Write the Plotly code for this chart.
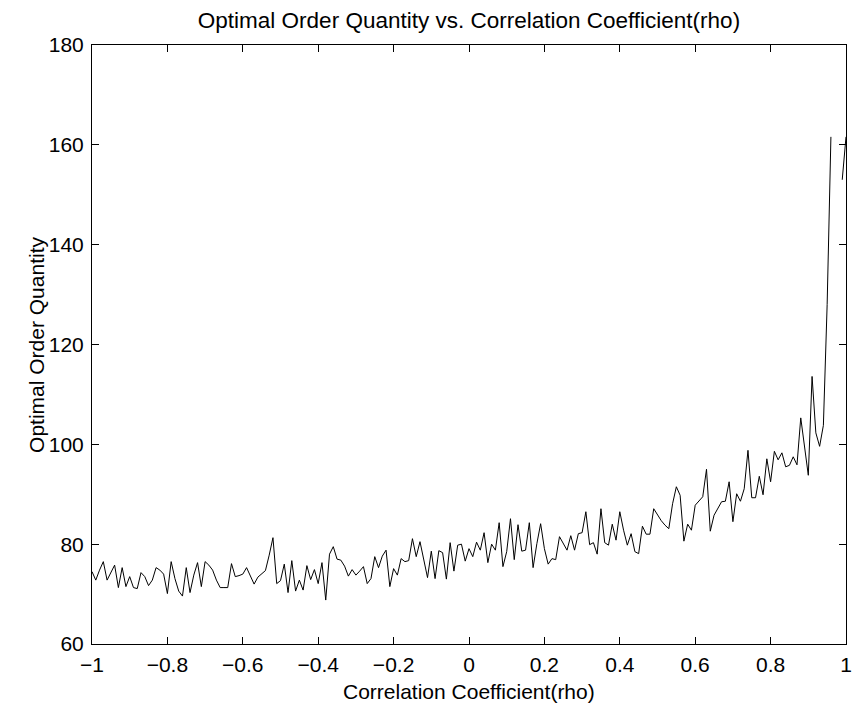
import plotly.graph_objects as go

# correlation coefficient grid (-1 : 0.01 : 1)
rho = [round(-1 + 0.01 * i, 2) for i in range(201)]

# optimal order quantity, rho = -1.00 ... -0.51
q_part1 = [74.5, 72.8, 74.8, 76.5, 72.8, 74.3, 75.8, 71.3, 75.3, 71.5,
           73.5, 71.3, 71.1, 74.3, 73.5, 71.7, 72.8, 75.3, 74.8, 74.0,
           70.1, 76.5, 73.1, 70.6, 69.6, 75.3, 70.3, 73.8, 76.3, 71.5,
           76.5, 75.8, 74.8, 72.8, 71.3, 71.3, 71.3, 76.1, 73.5, 73.7,
           74.0, 75.3, 73.7, 72.0, 73.4, 74.0, 74.7, 77.8, 81.3, 72.1]
# rho = -0.50 ... -0.01
q_part2 = [72.7, 76.0, 70.3, 76.7, 70.6, 72.8, 70.8, 75.7, 72.9, 74.9,
           72.1, 76.3, 68.8, 78.0, 79.5, 77.0, 76.8, 75.6, 73.6, 74.9,
           73.8, 74.6, 75.5, 72.1, 73.1, 77.5, 75.3, 77.6, 78.8, 71.5,
           75.1, 73.8, 77.1, 76.5, 76.7, 81.1, 77.5, 80.5, 76.8, 73.3,
           78.6, 73.1, 78.7, 78.3, 73.0, 80.3, 74.6, 79.8, 80.0, 76.6]
# rho = 0.00 ... 0.49
q_part3 = [79.1, 77.5, 80.4, 78.8, 82.3, 76.3, 80.0, 78.8, 84.3, 75.5,
           78.5, 85.1, 76.9, 83.9, 78.6, 78.8, 84.3, 75.3, 80.1, 84.1,
           79.1, 76.0, 77.1, 76.9, 81.5, 80.1, 78.8, 81.7, 78.8, 82.1,
           82.3, 86.5, 79.9, 80.3, 78.0, 87.1, 80.3, 79.8, 84.0, 80.8,
           86.5, 82.8, 79.8, 82.1, 78.5, 78.1, 83.6, 82.0, 82.0, 87.1]
# rho = 0.50 ... 1.00 (None = no value drawn)
q_part4 = [85.8, 84.7, 83.8, 83.1, 88.1, 91.5, 89.8, 80.6, 84.0, 82.8,
           87.8, 88.6, 89.5, 95.0, 82.6, 85.8, 87.1, 88.5, 88.6, 92.5,
           84.5, 90.1, 88.6, 91.1, 98.8, 89.3, 89.3, 93.6, 89.9, 97.1,
           92.5, 98.6, 96.9, 98.3, 95.5, 95.8, 97.5, 95.9, 105.3, 99.5,
           93.8, 113.6, 102.3, 99.6, 103.8, 128.0, 161.6, None, None, 153.0,
           161.6]

q = q_part1 + q_part2 + q_part3 + q_part4

x_tickvals = [-1, -0.8, -0.6, -0.4, -0.2, 0, 0.2, 0.4, 0.6, 0.8, 1]
x_ticktext = ["\u22121", "\u22120.8", "\u22120.6", "\u22120.4", "\u22120.2",
              "0", "0.2", "0.4", "0.6", "0.8", "1"]
y_tickvals = [60, 80, 100, 120, 140, 160, 180]
y_ticktext = ["60", "80", "100", "120", "140", "160", "180"]

FONT = "Liberation Sans, Arial, Helvetica, sans-serif"

fig = go.Figure()
fig.add_trace(go.Scatter(x=rho, y=q, mode="lines",
                         line=dict(color="black", width=1),
                         connectgaps=False, showlegend=False,
                         hoverinfo="x+y"))

W, H = 857, 709
L, R, T, B = 92, 5, 45, 65

axis_common = dict(showline=True, linecolor="black", linewidth=1,
                   mirror="ticks", ticks="inside", ticklen=7,
                   tickcolor="black", tickwidth=1, showgrid=False,
                   zeroline=False, ticklabeloverflow="allow",
                   tickfont=dict(family=FONT, size=21, color="black"))

fig.update_layout(
    width=W, height=H,
    margin=dict(l=L, r=R, t=T, b=B),
    paper_bgcolor="white", plot_bgcolor="white",
    font=dict(family=FONT, color="black"),
    title=dict(text="Optimal Order Quantity vs. Correlation Coefficient(rho)",
               x=0.5, xref="paper", xanchor="center",
               y=1 - 20 / H, yref="container", yanchor="middle",
               font=dict(family=FONT, size=22.5, color="black")),
    xaxis=dict(range=[-1, 1], tickvals=x_tickvals, ticktext=x_ticktext,
               ticklabelstandoff=2, **axis_common),
    yaxis=dict(range=[60, 180], tickvals=y_tickvals, ticktext=y_ticktext,
               ticklabelstandoff=3, **axis_common),
    annotations=[
        dict(text="Correlation Coefficient(rho)", xref="paper", yref="paper",
             x=0.5, y=(644 - 692) / 599, xanchor="center", yanchor="middle",
             showarrow=False, font=dict(family=FONT, size=21, color="black")),
        dict(text="Optimal Order Quantity", xref="paper", yref="paper",
             x=(36 - 92) / 760, y=0.5, xanchor="center", yanchor="middle",
             textangle=-90, showarrow=False,
             font=dict(family=FONT, size=21, color="black")),
    ],
)

fig.write_html(
    "out.html",
    config={"displayModeBar": False},
    post_script="document.body.style.margin='0px';"
                "document.body.style.padding='0px';"
                "document.body.style.overflow='hidden';",
)
